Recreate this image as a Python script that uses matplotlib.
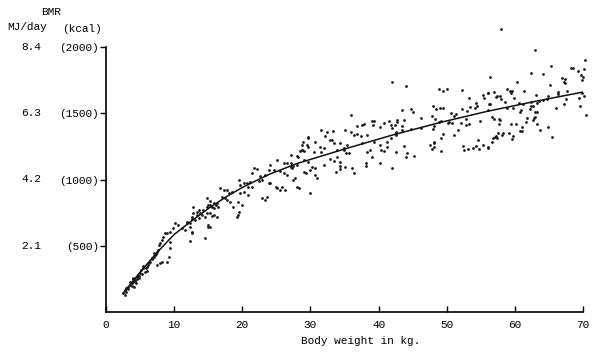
import matplotlib.pyplot as plt
from matplotlib.transforms import blended_transform_factory

# Данные: масса тела (кг) и BMR (ккал)
weight_kg = [
    2.5, 2.8, 3.0, 3.3, 3.5, 3.8, 4.0, 4.3, 4.5, 4.8, 3.9, 4.4, 3.5, 4.1, 4.9,
    3.2, 3.8, 4.2, 4.6, 5.3, 5.8, 6.3, 6.8, 3.0, 2.8, 4.0, 4.7, 5.5,
    5.5, 5.2, 5.7, 5.0, 6.0,
    7.0, 7.2, 7.5, 7.7, 6.7, 6.5, 6.2, 6.0, 7.0, 7.4,
    9.4, 9.4, 9.2, 8.9, 8.2, 7.9, 7.5,
    8.7, 8.4, 8.2, 7.9, 7.8,
    10.1, 10.6, 9.9, 9.4, 9.0,
    12.4, 11.6, 11.9,
    12.4, 12.6, 14.6, 15.3, 15.0,
    12.8, 13.3, 13.8, 14.3, 14.8, 15.3, 15.8, 16.3, 15.3, 14.6, 13.6, 13.1,
    12.6, 12.4, 14.1, 15.8,
    25.1, 26.1, 26.6,
    24.1, 23.9, 24.6, 25.5, 26.1, 26.5,
    21.7, 22.2, 21.4, 22.6, 22.9, 22.4, 23.4,
    23.9, 24.1, 24.9, 25.1, 25.6, 26.3, 25.8,
    22.9, 23.4, 23.6,
    19.5, 19.6, 20.2, 20.7, 21.2,
    20.9, 21.4,
    19.7, 20.2, 20.9,
    19.3, 20.0, 18.7, 19.5,
    16.8, 17.3, 17.7, 18.1, 18.5,
    17.0, 17.5, 18.2, 17.7,
    14.8, 15.3, 15.8, 16.2, 16.4, 15.5, 15.0,
    13.6, 12.8, 13.3, 12.6,
    14.8, 15.5, 16.3,
    15.0, 11.9, 11.1, 12.6,
    19.2, 19.4,
    27.1, 27.2, 28.7, 29.0, 29.6, 27.1, 28.0,
    36.0, 37.6, 36.9, 37.9, 39.0, 39.3, 39.2,
    40.2, 40.8, 41.6, 41.8, 42.4, 42.7,
    31.6, 32.4, 33.3,
    35.1, 36.0, 36.4, 36.8, 37.4, 38.3,
    32.1, 32.8, 33.4, 33.2,
    29.7, 28.9, 28.8, 29.5,
    30.6, 31.4,
    34.3, 34.9, 35.4,
    37.6, 39.3, 40.2,
    41.3, 41.8, 42.5,
    28.4, 28.8, 29.7,
    30.5, 31.5, 32.0,
    33.9, 34.9, 35.2, 35.6,
    38.3, 38.8, 40.3, 40.8, 41.2,
    28.2, 29.0, 29.7,
    32.8, 33.4, 34.4, 33.9,
    27.5, 27.3, 28.0,
    29.0, 29.3, 30.0, 30.3, 30.7,
    32.0,
    34.3, 35.1, 34.3,
    33.7, 36.4, 36.1,
    38.2, 38.1, 39.1, 40.2,
    42.0,
    30.7, 30.9, 27.8, 27.5, 28.0, 28.3,
    30.0,
    42.0, 44.0,
    48.9, 49.5, 50.1,
    52.2, 53.3,
    55.3, 55.5, 56.1, 56.3,
    54.3, 54.4, 54.1,
    48.0, 48.4, 49.0, 49.5,
    43.5, 44.7, 45.0,
    52.2, 53.0, 53.4,
    56.0, 56.3,
    50.7, 51.1, 51.4,
    42.7, 43.7,
    46.2,
    47.9, 48.3, 48.8, 49.1,
    50.3, 50.8, 50.2,
    52.1, 52.9, 53.3, 52.9,
    54.9,
    42.0, 43.5,
    42.5, 42.6, 43.5, 44.7,
    46.2, 48.1, 48.0,
    51.6, 51.1,
    49.5, 49.1,
    48.1, 48.1, 47.5, 47.9, 49.1,
    52.4, 52.5, 53.1, 53.9, 54.6, 54.8,
    42.5, 44.1, 44.0, 45.2,
    43.7, 48.1, 54.3, 55.3, 56.1,
    57.9, 63.0, 65.3, 70.3, 68.2, 68.5, 69.2, 70.2, 69.7, 70.0, 69.9,
    62.3, 64.2, 66.9, 67.3, 67.4, 67.2, 60.3, 65.2,
    58.9, 59.3, 59.5, 59.6,
    56.1, 56.9, 57.4, 57.8,
    61.4, 63.1, 64.8, 64.7, 66.4, 66.3, 67.7,
    69.8, 70.2, 69.4, 67.5,
    57.9, 57.2,
    56.2, 58.6, 59.9,
    60.6, 61.2, 62.4, 62.3,
    63.2, 63.6, 64.2,
    58.8, 59.8,
    60.8, 60.9,
    62.2, 62.7,
    63.0, 63.3,
    66.1, 67.2, 69.6, 70.5,
    56.6, 56.9,
    57.7, 57.8, 57.7,
    59.4, 60.1,
    61.8, 61.6,
    62.8, 62.9, 62.7,
    63.3, 61.0, 60.8, 61.1, 63.7, 64.8,
    59.2, 59.8, 59.6,
    65.5,
    57.5, 57.3, 57.1, 56.8, 56.7, 57.4, 58.1, 58.2,
    56.1,
]
bmr_kcal = [
    141, 166, 179, 191, 204, 217, 229, 242, 266, 254, 247, 217, 229, 186, 272,
    170, 200, 235, 250, 290, 330, 370, 400, 150, 130, 260, 280, 350,
    330, 317, 304, 292, 312,
    443, 430, 455, 468, 405, 380, 355, 342, 417, 438,
    531, 481, 417, 380, 380, 368, 355,
    594, 568, 543, 518, 506,
    669, 657, 632, 606, 594,
    644, 619, 669,
    538, 594, 556, 644, 657,
    795, 757, 745, 770, 795, 808, 783, 820, 745, 719, 707, 694,
    719, 669, 732, 732,
    1147, 1122, 1127,
    1109, 1072, 1072, 1066, 1047, 1034,
    1085, 1077, 1047, 1026, 996, 991, 1034,
    971, 971, 946, 934, 921, 921, 946,
    858, 845, 870,
    996, 958, 971, 976, 983,
    946, 941,
    896, 908, 883,
    832, 808, 795, 757,
    934, 921, 921, 896, 908,
    870, 858, 832, 845,
    858, 840, 825, 808, 795, 795, 808,
    770, 745, 732, 705,
    745, 725, 715,
    639, 682, 632, 606,
    719, 732,
    1122, 1097, 1223, 1217, 1323, 1185, 1177,
    1487, 1411, 1406, 1416, 1444, 1444, 1411,
    1399, 1424, 1442, 1411, 1411, 1436,
    1374, 1356, 1366,
    1374, 1361, 1336, 1341, 1331, 1336,
    1331, 1298, 1273, 1298,
    1315, 1285, 1260, 1260,
    1285, 1248,
    1273, 1235, 1260,
    1273, 1285, 1260,
    1285, 1315, 1349,
    1215, 1223, 1248,
    1210, 1210, 1235,
    1223, 1223, 1202, 1198,
    1210, 1223, 1223, 1215, 1248,
    1172, 1147, 1134,
    1155, 1142, 1134, 1172,
    1102, 1085, 1109,
    1059, 1047, 1072, 1096, 1085,
    1109,
    1102, 1092, 1079,
    1059, 1051, 1085,
    1122, 1104, 1172, 1127,
    1085,
    1034, 1014, 1009, 996, 946, 934,
    900,
    1738, 1708,
    1681, 1668, 1681,
    1675, 1617,
    1638, 1613, 1651, 1776,
    1575, 1555, 1542,
    1555, 1532, 1542, 1537,
    1525, 1532, 1512,
    1532, 1517, 1549,
    1525, 1568,
    1500, 1482, 1492,
    1449, 1449,
    1466,
    1479, 1454, 1436, 1444,
    1436, 1424, 1424,
    1429, 1411, 1416, 1454,
    1442,
    1387, 1406,
    1361, 1336, 1374, 1381,
    1387, 1406, 1381,
    1374, 1336,
    1341, 1311,
    1285, 1248, 1260, 1228, 1215,
    1253, 1223, 1228, 1235, 1298, 1228,
    1210, 1202, 1172, 1177,
    1253, 1275, 1253, 1260, 1248,
    2134, 1977, 1857, 1900, 1844, 1844, 1821, 1832, 1789, 1771, 1751,
    1806, 1796, 1764, 1756, 1731, 1738, 1733, 1713,
    1683, 1670, 1655, 1668,
    1655, 1658, 1632, 1628,
    1666, 1636, 1630, 1605, 1663, 1645, 1668,
    1651, 1630, 1617, 1605,
    1605, 1625,
    1570, 1585, 1613,
    1575, 1572, 1587, 1555,
    1580, 1592, 1600,
    1542, 1542,
    1512, 1525,
    1530, 1555,
    1509, 1509,
    1542, 1570, 1557, 1487,
    1469, 1454,
    1454, 1449, 1419,
    1419, 1417,
    1466, 1436,
    1462, 1474, 1449,
    1419, 1399, 1368, 1366, 1374, 1394,
    1349, 1331, 1308,
    1323,
    1349, 1328, 1318, 1313, 1285, 1315, 1336, 1353,
    1240,
]

# Линия регрессии, считанная по точкам с рисунка
curve_kg = [2.5, 5, 7.5, 10, 12.5, 15, 17.5, 20, 24, 28, 35, 42, 49, 56, 63, 70]
curve_kcal = [140, 300, 450, 585, 685, 780, 865, 940, 1040, 1120, 1230, 1335, 1430, 1515, 1590, 1660]

kcal_ticks = [500, 1000, 1500, 2000]
mj_labels = ["2.1", "4.2", "6.3", "8.4"]
x_ticks = [0, 10, 20, 30, 40, 50, 60, 70]

plt.rcParams['font.family'] = ['Liberation Mono', 'DejaVu Sans Mono']
fs = 8

fig = plt.figure(figsize=(6, 3.59), dpi=100)
ax = fig.add_axes([106 / 600, 47 / 359, 477 / 600, 265 / 359])

ax.scatter(weight_kg, bmr_kcal, s=4, marker='o', color='#1a1a1a', linewidths=0, clip_on=False)
ax.plot(curve_kg, curve_kcal, color='#111111', linewidth=1.1)

ax.set_xlim(0, 70)
ax.set_ylim(0, 2000)

ax.set_xticks(x_ticks)
ax.set_xticklabels([str(t) for t in x_ticks], fontsize=fs)
ax.set_yticks(kcal_ticks)
ax.set_yticklabels([f"({t})" for t in kcal_ticks], fontsize=fs)
ax.tick_params(axis='x', direction='in', length=4, width=1, pad=6)
ax.tick_params(axis='y', direction='out', length=4, width=1, pad=1)

for spine in ['top', 'right']:
    ax.spines[spine].set_visible(False)
for spine in ['left', 'bottom']:
    ax.spines[spine].set_linewidth(1.2)

# Вторая шкала в МДж/сут слева
trans = blended_transform_factory(ax.transAxes, ax.transData)
for val, lab in zip(kcal_ticks, mj_labels):
    ax.text((21 - 106) / 477, val, lab, transform=trans, ha='left', va='center', fontsize=fs)

fig.text(51 / 600, 1 - 12 / 359, "BMR", ha='center', va='center', fontsize=fs)
fig.text(7 / 600, 1 - 27 / 359, "MJ/day", ha='left', va='center', fontsize=fs)
fig.text(102 / 600, 1 - 29 / 359, "(kcal)", ha='right', va='center', fontsize=fs)

ax.text((361 - 106) / 477, -(341 - 312) / 265, "Body weight in kg.", transform=ax.transAxes,
        ha='center', va='center', fontsize=fs)

fig.savefig("out.png", dpi=100)
